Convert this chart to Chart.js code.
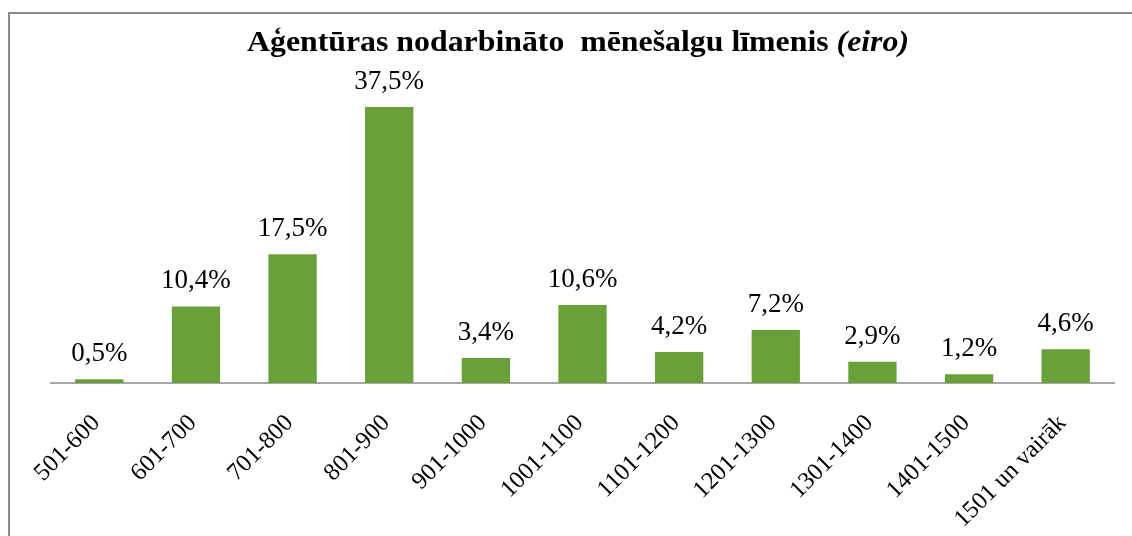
<!DOCTYPE html>
<html>
<head>
<meta charset="utf-8">
<script src="https://cdn.jsdelivr.net/npm/chart.js@4/dist/chart.umd.min.js"></script>
<style>
  html, body { margin: 0; padding: 0; background: #fff; }
  #wrap { width: 1132px; height: 536px; position: relative; }
</style>
</head>
<body>
<div id="wrap"><canvas id="c" width="1132" height="536"></canvas></div>
<script>
const categories = ['501-600', '601-700', '701-800', '801-900', '901-1000', '1001-1100',
  '1101-1200', '1201-1300', '1301-1400', '1401-1500', '1501 un vairāk'];
const shares = [0.5, 10.4, 17.5, 37.5, 3.4, 10.6, 4.2, 7.2, 2.9, 1.2, 4.6];
const titleMain = 'Aģentūras nodarbināto  mēnešalgu līmenis ';
const titleUnit = '(eiro)';

const serif = '"Liberation Serif", "Times New Roman", serif';

// frame + title drawn by hand (title mixes bold and bold italic)
const framePlugin = {
  id: 'frame',
  beforeDraw(chart) {
    const ctx = chart.ctx;
    ctx.save();
    ctx.fillStyle = '#fff';
    ctx.fillRect(0, 0, chart.width, chart.height);
    ctx.strokeStyle = '#8a8a8a';
    ctx.lineWidth = 2;
    ctx.beginPath();
    ctx.moveTo(9, chart.height + 5);
    ctx.lineTo(9, 13);
    ctx.lineTo(chart.width + 5, 13);
    ctx.stroke();

    ctx.fillStyle = '#000';
    ctx.textBaseline = 'alphabetic';
    ctx.font = 'bold 29px ' + serif;
    const w1 = ctx.measureText(titleMain).width;
    ctx.font = 'italic bold 29px ' + serif;
    const w2 = ctx.measureText(titleUnit).width;
    const sx = 662 / (w1 + w2);
    ctx.translate(578 - 331, 51);
    ctx.scale(sx, 1);
    ctx.font = 'bold 29px ' + serif;
    ctx.fillText(titleMain, 0, 0);
    ctx.font = 'italic bold 29px ' + serif;
    ctx.fillText(titleUnit, w1, 0);
    ctx.restore();
  }
};

const valueLabels = {
  id: 'valueLabels',
  afterDatasetsDraw(chart) {
    const ctx = chart.ctx;
    const meta = chart.getDatasetMeta(0);
    ctx.save();
    ctx.font = '27px ' + serif;
    ctx.fillStyle = '#000';
    ctx.textAlign = 'center';
    ctx.textBaseline = 'alphabetic';
    meta.data.forEach((bar, i) => {
      const txt = shares[i].toFixed(1).replace('.', ',') + '%';
      ctx.fillText(txt, bar.x, bar.y - 18);
    });
    ctx.restore();
  }
};

new Chart(document.getElementById('c'), {
  type: 'bar',
  data: {
    labels: categories,
    datasets: [{
      data: shares,
      backgroundColor: '#69a03a',
      borderWidth: 0,
      barPercentage: 0.5,
      categoryPercentage: 1.0
    }]
  },
  options: {
    responsive: false,
    animation: false,
    layout: { padding: { left: 51, right: 18, top: 88.6, bottom: 0 } },
    plugins: {
      legend: { display: false },
      title: { display: false },
      tooltip: { enabled: false }
    },
    scales: {
      x: {
        grid: { display: false, drawTicks: false },
        border: { display: true, color: '#a6a6a6', width: 2 },
        ticks: {
          minRotation: 45,
          maxRotation: 45,
          padding: 26,
          labelOffset: -3,
          color: '#000',
          font: { family: serif, size: 24.5 }
        },
        afterFit(scale) { scale.height = 153; }
      },
      y: {
        display: false,
        min: 0,
        max: 40
      }
    }
  },
  plugins: [framePlugin, valueLabels]
});
</script>
</body>
</html>
